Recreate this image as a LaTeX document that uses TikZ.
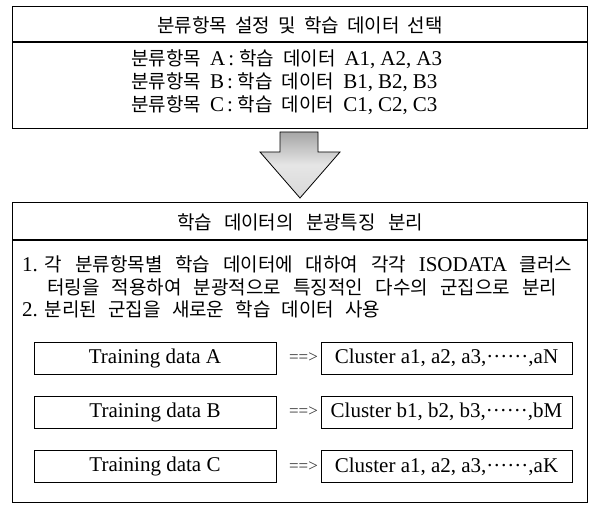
\documentclass[tikz,border=0pt]{standalone}
\usepackage{fontspec}
\setmainfont{Liberation Serif}
\newfontfamily\krfont[WordSpace=2.2]{Noto Sans CJK KR}
\newcommand\K[1]{{\fontsize{19}{22}\krfont #1}}
\newcommand\fitline[2]{\hbox to #1{\spaceskip=2pt plus 1fil\relax #2}}
\newcommand\fs{\hspace{5pt}}
\newcommand\ws{\hspace{9pt}}
\newcommand\Dots{\textperiodcentered\textperiodcentered\textperiodcentered\textperiodcentered\textperiodcentered\textperiodcentered}
\begin{document}
\begin{tikzpicture}[x=1pt,y=-1pt,
  font=\fontsize{21}{24}\selectfont,
  frame/.style={draw=black, line width=1.1pt, inner sep=0pt, anchor=north west},
  databox/.style={draw=black, line width=0.9pt, minimum width=242pt, minimum height=32pt, inner sep=0pt},
  clusterbox/.style={draw=black, line width=0.9pt, minimum width=251pt, minimum height=32pt, inner sep=0pt},
  txt/.style={inner sep=0pt, anchor=west},
  ctxt/.style={inner sep=0pt},
  yields/.style={inner sep=0pt, font=\fontsize{17}{20}\selectfont, text=black!80}
]
\useasboundingbox (0,0) rectangle (590,505);
\fill[white] (0,0) rectangle (590,505);

% top box
\node[frame, minimum width=575pt, minimum height=122pt] (top) at (12,6) {};
\coordinate (tdl) at (12,42);
\coordinate (tdr) at (587,42);
\draw[line width=1.1pt] (tdl) -- (tdr);
\node[ctxt] (th) at (300,25) {\fitline{285pt}{\K{분류항목 설정 및 학습 데이터 선택}}};
\node[txt] (ta) at (131,59) {\K{분류항목}\ws A\hspace{3pt}:\hspace{5pt}\K{학습}\ws\K{데이터}\ws A1,\fs A2,\fs A3};
\node[txt] (tb) at (131,82) {\K{분류항목}\ws B\hspace{3pt}:\hspace{5pt}\K{학습}\ws\K{데이터}\ws B1,\fs B2,\fs B3};
\node[txt] (tc) at (131,105) {\K{분류항목}\ws C\hspace{3pt}:\hspace{5pt}\K{학습}\ws\K{데이터}\ws C1,\fs C2,\fs C3};

% block arrow
\shade[top color=gray!70, bottom color=gray!30, middle color=gray!20, draw=black, line width=0.8pt]
  (280,132) -- (318,132) -- (318,152) -- (340,152) -- (300,198) -- (260,152) -- (280,152) -- cycle;

% bottom box
\node[frame, minimum width=575pt, minimum height=300pt] (bot) at (12,202) {};
\coordinate (bdl) at (12,240);
\coordinate (bdr) at (587,240);
\draw[line width=1.1pt] (bdl) -- (bdr);
\node[ctxt] (bh) at (300,222) {\fitline{246pt}{\K{학습 데이터의 분광특징 분리}}};
\node[txt] (l1) at (22,264) {\fitline{550pt}{1.\hspace{7pt}\K{각 분류항목별 학습 데이터에 대하여 각각} ISODATA \K{클러스}}};
\node[txt] (l2) at (47,287) {\fitline{510pt}{\K{터링을 적용하여 분광적으로 특징적인 다수의 군집으로 분리}}};
\node[txt] (l3) at (22,309) {\fitline{358pt}{2.\hspace{7pt}\K{분리된 군집을 새로운 학습 데이터 사용}}};

% rows
\node[databox] (da) at (155,358) {Training data A};
\node[yields] (ya) at (303.5,358) {==>};
\node[clusterbox] (ca) at (446.5,358) {Cluster a1, a2, a3,\Dots,aN};

\node[databox] (db) at (155,412) {Training data B};
\node[yields] (yb) at (303.5,412) {==>};
\node[clusterbox] (cb) at (446.5,412) {Cluster b1, b2, b3,\Dots,bM};

\node[databox] (dc) at (155,466.5) {Training data C};
\node[yields] (yc) at (303.5,466.5) {==>};
\node[clusterbox] (cc) at (446.5,466.5) {Cluster a1, a2, a3,\Dots,aK};
\end{tikzpicture}
\end{document}
